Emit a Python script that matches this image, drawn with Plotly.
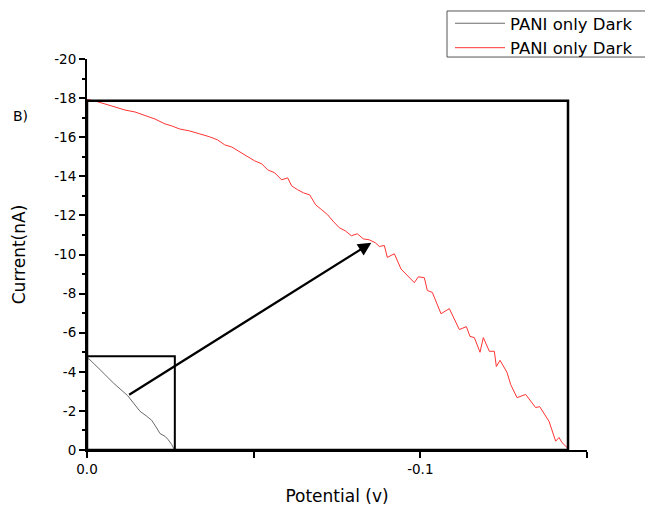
import plotly.graph_objects as go

# ---------------- data ----------------
dark_potential = [0.0, -0.0006, -0.0039, -0.0079, -0.0122, -0.0139, -0.0159, -0.0179,
                  -0.0194, -0.0209, -0.0219, -0.0234, -0.0243, -0.0254, -0.0263]
dark_current = [-4.67, -4.66, -4.11, -3.43, -2.78, -2.41, -1.98, -1.73,
                -1.52, -1.13, -0.84, -0.70, -0.54, -0.28, 0.0]

red_potential = [0.0, -0.0024, -0.0054, -0.0084, -0.0114, -0.0144, -0.0174, -0.0204,
                 -0.0234, -0.0254, -0.0278, -0.0308, -0.0338, -0.0368, -0.0392, -0.0413,
                 -0.0434, -0.0458, -0.0482, -0.0503, -0.0524, -0.0542, -0.0563, -0.0584,
                 -0.0602, -0.0614, -0.0632, -0.0650, -0.0668, -0.0686, -0.0704, -0.0722,
                 -0.0740, -0.0757, -0.0775, -0.0793, -0.0811, -0.0829, -0.0847, -0.0865,
                 -0.0877, -0.0892, -0.0901, -0.0922, -0.0942, -0.0961, -0.0982, -0.0994,
                 -0.1012, -0.1021, -0.1036, -0.1062, -0.1087, -0.1117, -0.1138, -0.1149,
                 -0.1162, -0.1179, -0.1189, -0.1207, -0.1222, -0.1228, -0.1239, -0.1260,
                 -0.1271, -0.1290, -0.1316, -0.1346, -0.1358, -0.1386, -0.1406, -0.1416,
                 -0.1425, -0.1440, -0.1443]
red_current = [-17.93, -17.85, -17.70, -17.55, -17.39, -17.29, -17.09, -16.93,
               -16.68, -16.58, -16.42, -16.32, -16.17, -16.02, -15.86, -15.61,
               -15.50, -15.25, -15.04, -14.79, -14.64, -14.33, -14.18, -13.82,
               -13.92, -13.51, -13.31, -13.15, -13.05, -12.54, -12.29, -12.03,
               -11.67, -11.37, -11.21, -10.96, -11.06, -10.80, -10.75, -10.60,
               -10.41, -10.46, -9.85, -10.04, -9.26, -8.91, -8.56, -8.86,
               -8.81, -8.16, -8.06, -6.97, -7.23, -6.16, -6.31, -5.81,
               -5.75, -5.00, -5.75, -5.05, -5.05, -4.27, -4.59, -3.97,
               -3.35, -2.68, -2.84, -2.17, -2.22, -1.47, -0.45, -0.64,
               -0.38, -0.13, 0.0]

series_names = ["PANI only Dark", "PANI only Dark"]

# boxes: [x0, x1, y0, y1]
small_box = [0.0, -0.02635, 0.0, -4.79]
big_box = [0.0, -0.1443, 0.0, -17.87]

# arrow from point on dark curve to point on red curve
arrow_start = [-0.0122, -2.78]
arrow_end = [-0.0853, -10.60]

x_tickvals = [0.0, -0.05, -0.1, -0.15]
x_ticktext = ["0.0", "", "-0.1", ""]
y_tickvals = [0, -2, -4, -6, -8, -10, -12, -14, -16, -18, -20]
y_ticktext = ["0", "-2", "-4", "-6", "-8", "-10", "-12", "-14", "-16", "-18", "-20"]
y_minor = [-1, -3, -5, -7, -9, -11, -13, -15, -17, -19]

FONT = "DejaVu Sans, sans-serif"

fig = go.Figure()
fig.add_trace(go.Scatter(x=dark_potential, y=dark_current, mode="lines",
                         name=series_names[0], line=dict(color="#6a6a6a", width=1)))
fig.add_trace(go.Scatter(x=red_potential, y=red_current, mode="lines",
                         name=series_names[1], line=dict(color="#ff3333", width=1)))

for box, w in [(small_box, 2), (big_box, 2.5)]:
    fig.add_shape(type="rect", xref="x", yref="y", x0=box[0], x1=box[1],
                  y0=box[2], y1=box[3], line=dict(color="black", width=w),
                  fillcolor="rgba(0,0,0,0)", layer="above")

# legend frame
fig.add_shape(type="rect", xref="paper", yref="paper", x0=0.72, x1=1.13,
              y0=1.005, y1=1.1228, line=dict(color="#555555", width=1),
              fillcolor="rgba(0,0,0,0)")

fig.add_annotation(x=arrow_end[0], y=arrow_end[1], ax=arrow_start[0], ay=arrow_start[1],
                   xref="x", yref="y", axref="x", ayref="y", showarrow=True,
                   arrowhead=2, arrowsize=1.2, arrowwidth=2.2, arrowcolor="black", text="")

fig.add_annotation(x=-0.134, y=0.854, xref="paper", yref="paper", text="B)",
                   xanchor="center", yanchor="middle",
                   showarrow=False, font=dict(family=FONT, size=14, color="black"))

fig.update_layout(
    width=645, height=508,
    margin=dict(l=87, r=58, t=59, b=58, pad=0, autoexpand=False),
    paper_bgcolor="white", plot_bgcolor="white",
    font=dict(family=FONT, color="black"),
    showlegend=True,
    legend=dict(x=0.726, y=1.1355, xanchor="left", yanchor="top",
                bgcolor="rgba(0,0,0,0)", borderwidth=0,
                font=dict(family=FONT, size=16.5, color="black"),
                itemwidth=50, tracegroupgap=0),
    xaxis=dict(range=[0, -0.15], tickvals=x_tickvals, ticktext=x_ticktext,
               automargin=False,
               showgrid=False, zeroline=False, showline=True, linecolor="black",
               linewidth=2, ticks="outside", ticklen=6, tickwidth=2, tickcolor="black",
               tickfont=dict(family=FONT, size=13.5, color="black"),
               title=dict(text="Potential (v)", font=dict(family=FONT, size=17, color="black"),
                          standoff=14)),
    yaxis=dict(range=[0, -20], tickvals=y_tickvals, ticktext=y_ticktext,
               automargin=False,
               showgrid=False, zeroline=False, showline=True, linecolor="black",
               linewidth=2, ticks="outside", ticklen=6, tickwidth=2, tickcolor="black",
               tickfont=dict(family=FONT, size=13.5, color="black"),
               minor=dict(tickvals=y_minor, ticks="outside", ticklen=3, tickwidth=1.5,
                          tickcolor="black"),
               title=dict(text="Current(nA)", font=dict(family=FONT, size=17, color="black"),
                          standoff=24)),
)

fig.write_html("out.html")
